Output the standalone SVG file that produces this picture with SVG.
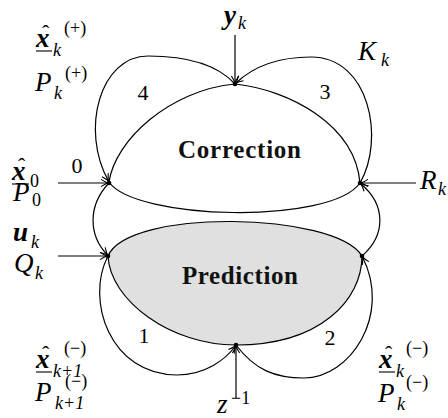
<svg xmlns="http://www.w3.org/2000/svg" width="448" height="418" viewBox="0 0 448 418">
<style>
text{font-family:"Liberation Serif","Times New Roman",serif;fill:#000}
.e{fill:none;stroke:#000;stroke-width:1.2}
.s{fill:none;stroke:#000;stroke-width:1.2;marker-end:url(#ar)}
.m{font-style:italic;font-size:27px}
.mb{font-style:italic;font-weight:bold;font-size:27px}
.sc{font-style:italic;font-size:18px}
.su{font-size:18px}
.n{font-size:22px;text-anchor:middle}
.t{font-weight:bold;font-size:25px;fill:#111}
.h{font-size:22px}
.u{stroke:#000;stroke-width:1.1}
.d{fill:#000}
</style>
<defs>
<marker id="ar" markerUnits="userSpaceOnUse" markerWidth="12" markerHeight="12" viewBox="-8 -6 10 12" refX="0" refY="0" orient="auto">
<path d="M-7,-3.6 Q-2.5,-0.8 0,0 Q-2.5,0.8 -7,3.6" fill="none" stroke="#000" stroke-width="1.1"/>
</marker>
</defs>
<g id="correction">
<path class="e" d="M109,182 C115,140 170,90 235,84 C290,90 355,125 360,183 C330,225 135,220 109,182 Z"/>
<text class="t" x="178" y="158" textLength="123" lengthAdjust="spacing">Correction</text>
</g>
<g id="prediction">
<path d="M108,256 C128,208 335,212 362,256 C362,300 320,345 236,345 C170,345 110,300 108,256 Z" fill="#e0e0e0" stroke="#000" stroke-width="1.2"/>
<text class="t" x="182" y="284" textLength="116" lengthAdjust="spacing">Prediction</text>
</g>
<g id="connectors">
<path class="s" d="M235,84 C215,62 180,56 148,56 C100,56 80,130 108.5,181"/>
<path class="s" d="M360,183 C385,140 370,57 311,57 C280,57 255,65 236,83"/>
<path class="s" d="M109,183 C88,205 88,235 107.5,255"/>
<path class="s" d="M362,256 C386,235 386,205 361,184"/>
<path class="s" d="M108,256 C85,300 110,375 177,375 C205,375 225,360 235.5,346"/>
<path class="s" d="M236,345 C255,370 275,378 304,378 C350,378 392,315 362.5,257"/>
<path class="s" d="M235,35 L235,83"/>
<path class="s" d="M416,183 L361,183"/>
<path class="s" d="M58,183 L108,183"/>
<path class="s" d="M58,256 L107,256"/>
<path class="s" d="M236,398 L236,346"/>
</g>
<g id="nodes">
<circle class="d" cx="235" cy="84" r="2.3"/>
<circle class="d" cx="109" cy="183" r="2.3"/>
<circle class="d" cx="360" cy="183" r="2.3"/>
<circle class="d" cx="108" cy="256" r="2.3"/>
<circle class="d" cx="362" cy="256" r="2.3"/>
<circle class="d" cx="236" cy="345" r="2.3"/>
</g>
<g id="numbers">
<text class="n" x="143" y="100">4</text>
<text class="n" x="325" y="99">3</text>
<text class="n" x="77" y="173">0</text>
<text class="n" x="144" y="343">1</text>
<text class="n" x="330" y="345">2</text>
</g>
<g id="labels">
<text class="mb" x="224" y="24">y</text><text class="sc" x="238" y="29">k</text>
<text class="m" x="358" y="60">K</text><text class="sc" x="381" y="66">k</text>
<text class="m" x="420" y="189">R</text><text class="sc" x="438" y="195">k</text>
<text class="mb" x="36" y="47">x</text><text class="h" x="42" y="40">ˆ</text><line class="u" x1="36" y1="51" x2="52" y2="51"/><text class="sc" x="53" y="56">k</text><text class="su" x="64" y="34">(+)</text>
<text class="m" x="35" y="91">P</text><text class="sc" x="54" y="99">k</text><text class="su" x="65" y="79">(+)</text>
<text class="mb" x="12" y="180">x</text><text class="h" x="18" y="173">ˆ</text><line class="u" x1="12" y1="184" x2="29" y2="184"/><text class="su" x="30" y="187">0</text>
<text class="m" x="13" y="201">P</text><text class="su" x="32" y="206">0</text>
<text class="mb" x="13" y="241">u</text><text class="sc" x="31" y="248">k</text>
<text class="m" x="14" y="272">Q</text><text class="sc" x="35" y="279">k</text>
<text class="mb" x="36" y="368">x</text><text class="h" x="42" y="361">ˆ</text><line class="u" x1="36" y1="372" x2="52" y2="372"/><text class="sc" x="53" y="377">k<tspan class="su">+1</tspan></text><text class="su" x="64" y="354">(−)</text>
<text class="m" x="35" y="401">P</text><text class="sc" x="55" y="409">k<tspan class="su">+1</tspan></text><text class="su" x="65" y="387">(−)</text>
<text class="mb" x="379" y="368">x</text><text class="h" x="385" y="361">ˆ</text><line class="u" x1="379" y1="372" x2="395" y2="372"/><text class="sc" x="396" y="377">k</text><text class="su" x="406" y="354">(−)</text>
<text class="m" x="378" y="402">P</text><text class="sc" x="397" y="410">k</text><text class="su" x="406" y="388">(−)</text>
<text class="m" x="217" y="413">z</text><text class="su" x="231" y="404">−1</text>
</g>
</svg>
